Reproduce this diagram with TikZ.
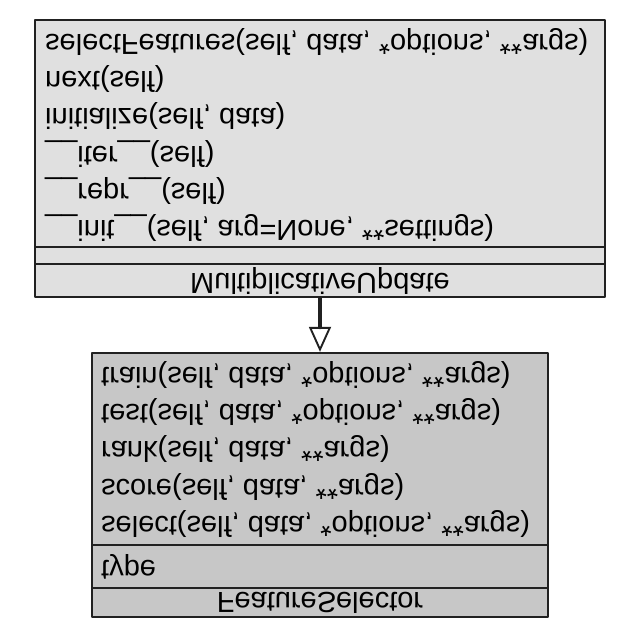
\documentclass[tikz,border=0pt]{standalone}
\usepackage{fontspec}
\setmainfont{Liberation Sans}
\usepackage{xcolor}
\usepackage{tikz}
\usetikzlibrary{positioning,arrows.meta}

\definecolor{muFill}{gray}{0.88}
\definecolor{fsFill}{gray}{0.78}
\definecolor{edgeCol}{gray}{0.13}

\begin{document}
\begin{tikzpicture}[
				x=1pt,y=1pt,yscale=-1,
				line cap=round,line join=round,
				every node/.append style={transform shape},
				part/.style={draw=edgeCol, line width=2.3pt, inner sep=0pt, minimum width=#1},
				member/.style={anchor=west, inner sep=0pt, font=\fontsize{29}{34}\selectfont},
				title/.style={inner sep=0pt, font=\fontsize{29}{34}\selectfont},
				inherit/.style={draw=edgeCol, line width=3.8pt,
					-{Triangle[open, length=25pt, width=22pt, line width=1.9pt]}}
				]
				% ---- parameters
				\def\rowH{37.2}
				\def\muX{45}
				\def\muY{42}
				\def\fsX{101}
				\def\fsY{375}
				
				\path[fill=white, use as bounding box] (0,0) rectangle (640,640);
				
				% MultiplicativeUpdate
				\node[part=570, fill=muFill, minimum height=227] (muops) at (320,133.5) {};
				\node[part=570, fill=muFill, minimum height=17] (muattr) at (320,255.5) {};
				\node[part=570, fill=muFill, minimum height=33, title] (muname) at (320,280.5) {MultiplicativeUpdate};
				
				% FeatureSelector
				\node[part=456, fill=fsFill, minimum height=192] (fsops) at (320,449) {};
				\node[part=456, fill=fsFill, minimum height=43] (fsattr) at (320,566.5) {};
				\node[part=456, fill=fsFill, minimum height=29, title] (fsname) at (320,602.5) {FeatureSelector};
				
				% methods
				\foreach \txt [count=\i from 0] in {{selectFeatures(self, data, *options, **args)},
					{next(self)}, {initialize(self, data)}, {\_\_iter\_\_(self)},
					{\_\_repr\_\_(self)}, {\_\_init\_\_(self, arg=None, **settings)}}{
					\node[member] (mum\i) at (\muX, {\muY+\i*\rowH}) {\txt};
				}
				\foreach \txt [count=\i from 0] in {{train(self, data, *options, **args)},
					{test(self, data, *options, **args)}, {rank(self, data, **args)},
					{score(self, data, **args)}, {select(self, data, *options, **args)}}{
					\node[member] (fsm\i) at (\fsX, {\fsY+\i*\rowH}) {\txt};
				}
				\node[member] (fstype) at (\fsX, 566.5) {type};
				
				% generalisation
				\draw[inherit] (muname.north) -- (fsops.south);
			\end{tikzpicture}
\end{document}
